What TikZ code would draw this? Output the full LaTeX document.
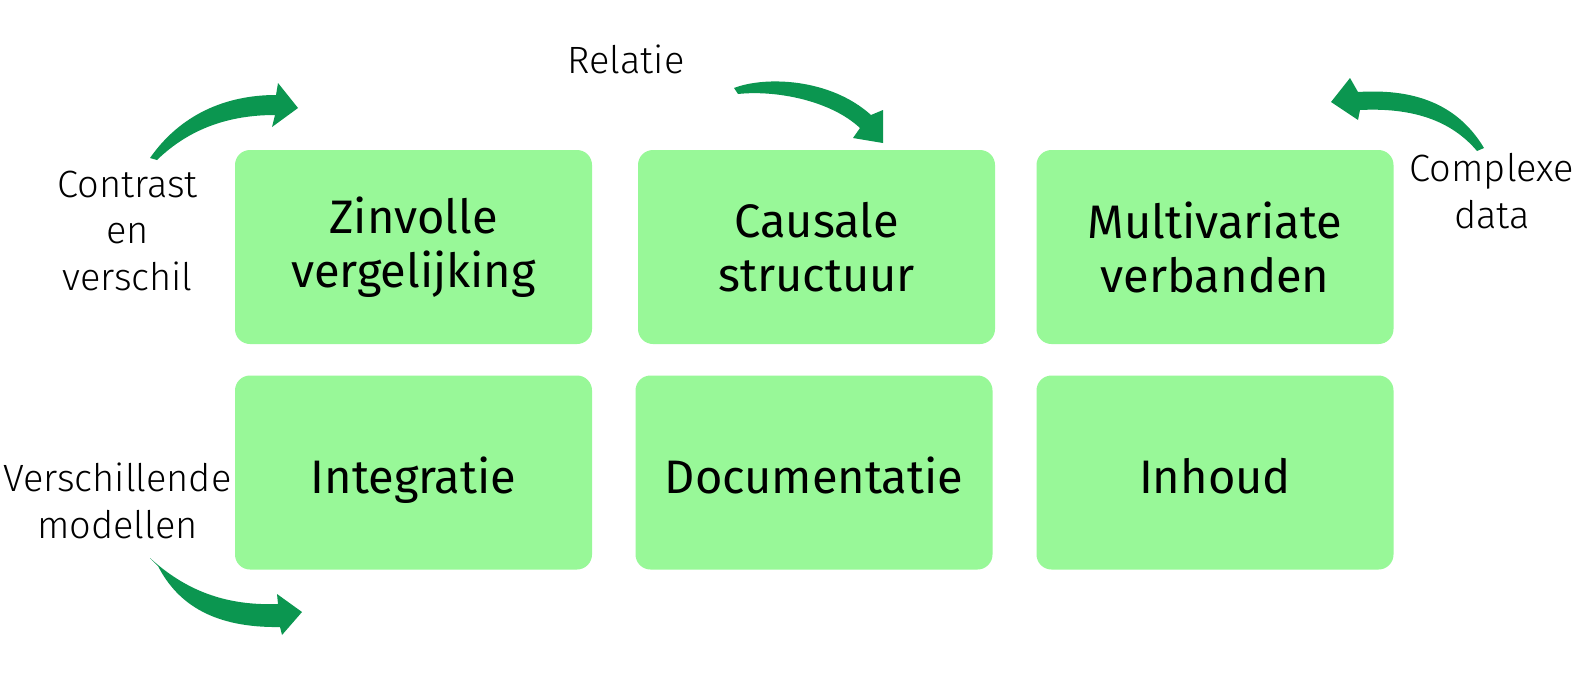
\documentclass[tikz,border=0pt]{standalone}
\usepackage{fontspec}
\setmainfont{Fira Sans}
\newfontfamily\labelfont{Fira Sans Light}
\definecolor{boxgreen}{HTML}{98F898}
\definecolor{arrowgreen}{HTML}{0B9650}
\tikzset{
  card/.style={fill=boxgreen, rounded corners=15pt, minimum width=357pt, minimum height=194pt,
    align=center, inner sep=0pt, font=\fontsize{47}{54}\selectfont},
  onecard/.style={card, text height=41pt, text depth=0pt},
  sidelabel/.style={align=center, inner sep=0pt, anchor=base, font=\labelfont\fontsize{38}{46.5}\selectfont},
  bigarrow/.style={fill=arrowgreen}
}
\begin{document}
\begin{tikzpicture}[x=1pt,y=-1pt]
\useasboundingbox[fill=white] (0,0) rectangle (1584,672);
% cards
\node[card] (b1) at (413.5,247) {Zinvolle\\vergelijking};
\node[card] (b2) at (816.5,247) {Causale\\structuur};
\node[card] (b3) at (1215,247) {Multivariate\\verbanden};
\node[onecard] (b4) at (413.5,472.5) {Integratie};
\node[onecard] (b5) at (814,472.5) {Documentatie};
\node[onecard] (b6) at (1215,472.5) {Inhoud};
% labels (base anchor = baseline of last line)
\node[sidelabel] (l1) at (127.5,290) {Contrast\\en\\verschil};
\node[sidelabel] (l2) at (117.5,538) {Verschillende\\modellen};
\node[sidelabel] (l3) at (626,73) {Relatie};
\node[sidelabel] (l4) at (1492,228) {Complexe\\data};
% arrows
\fill[bigarrow] (150,158) .. controls (180,115) and (225,95) .. (276,95)
  -- (278,83) -- (298,108) -- (272,127) -- (275,115)
  .. controls (230,115) and (190,128) .. (157,160) -- cycle;
\fill[bigarrow] (734,88) .. controls (765,76) and (830,78) .. (871,115)
  -- (883,110) -- (883,143) -- (853,138) -- (860,128)
  .. controls (830,100) and (775,90) .. (738,94) -- cycle;
\fill[bigarrow] (1484,148) .. controls (1460,108) and (1420,88) .. (1358,92)
  -- (1350,78) -- (1331,102) -- (1358,120) -- (1360,110)
  .. controls (1420,107) and (1455,125) .. (1477,151) -- cycle;
\fill[bigarrow] (150,558) .. controls (185,590) and (225,606) .. (278,604)
  -- (277,594) -- (302,612) -- (282,635) -- (280,627)
  .. controls (215,628) and (178,605) .. (158,566) -- cycle;
\end{tikzpicture}
\end{document}
